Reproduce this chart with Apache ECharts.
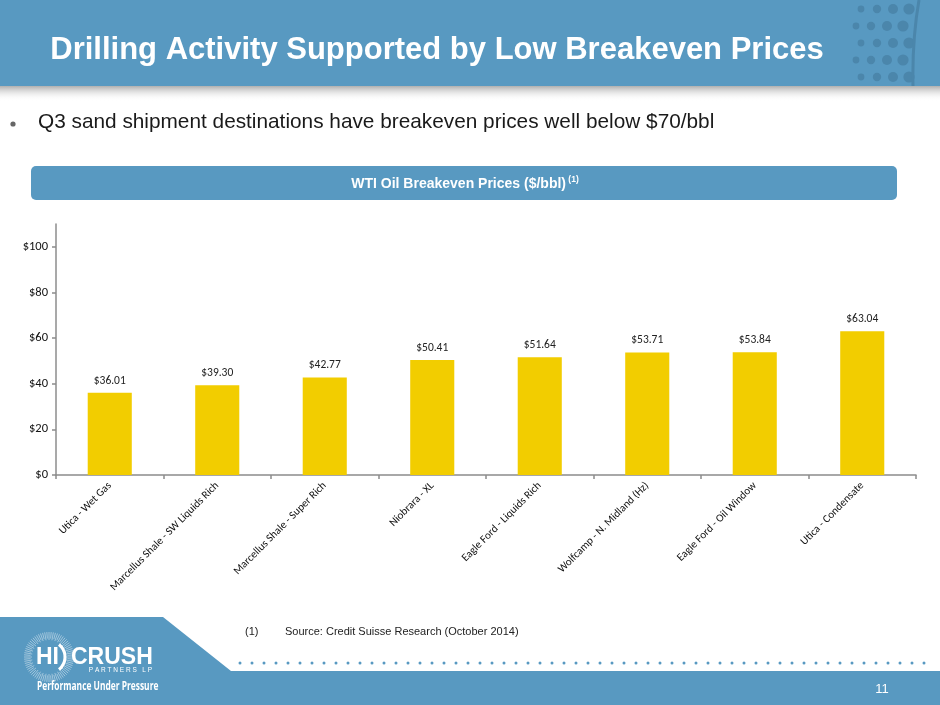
<!DOCTYPE html>
<html>
<head>
<meta charset="utf-8">
<title>Drilling Activity Supported by Low Breakeven Prices</title>
<script src="https://cdn.jsdelivr.net/npm/echarts@6/dist/echarts.min.js"></script>
<style>
  html, body { margin: 0; padding: 0; background: #fff; }
  #chart { width: 940px; height: 705px; }
</style>
</head>
<body>
<div id="chart"></div>
<script>
// data
var categories = [
  'Utica - Wet Gas',
  'Marcellus Shale - SW Liquids Rich',
  'Marcellus Shale - Super Rich',
  'Niobrara - XL',
  'Eagle Ford - Liquids Rich',
  'Wolfcamp - N. Midland (Hz)',
  'Eagle Ford - Oil Window',
  'Utica - Condensate'
];
var prices = [36.01, 39.30, 42.77, 50.41, 51.64, 53.71, 53.84, 63.04];
var yTicks = [0, 20, 40, 60, 80, 100];

var BLUE = '#5899c1';
var DOT = '#4b86ab';
var chartFont = 'Carlito, Lato, sans-serif';

var myChart = echarts.init(document.getElementById('chart'));

// header dots (decoration)
var dotRows = [9, 26, 43, 60, 77];
var dotColsA = [856, 871, 887, 903];
var dotColsB = [861, 877, 893, 909];
var dotR = [3.4, 4.2, 5, 5.6];
var deco = [];
dotRows.forEach(function (y, i) {
  var cols = i % 2 ? dotColsA : dotColsB;
  cols.forEach(function (x, j) {
    deco.push({ type: 'circle', shape: { cx: x, cy: y, r: dotR[j] }, style: { fill: DOT } });
  });
});

// logo sunburst
var burst = [];
for (var a = 0; a < 360; a += 5) {
  var rad = a * Math.PI / 180;
  var r1 = 17 + (a % 10 ? 1.5 : 0), r2 = 25;
  burst.push({
    type: 'line',
    shape: { x1: 49 + r1 * Math.cos(rad), y1: 657 + r1 * Math.sin(rad), x2: 49 + r2 * Math.cos(rad), y2: 657 + r2 * Math.sin(rad) },
    style: { stroke: 'rgba(255,255,255,0.55)', lineWidth: 0.8 }
  });
}

// footer dotted line
var footDots = [];
for (var x = 240; x < 935; x += 12) {
  footDots.push({ type: 'circle', shape: { cx: x, cy: 663, r: 1.5 }, style: { fill: BLUE } });
}

var graphics = [
  // header band + shadow
  { type: 'rect', shape: { x: 0, y: 85, width: 940, height: 16 },
    style: { fill: new echarts.graphic.LinearGradient(0, 0, 0, 1, [
      { offset: 0, color: 'rgba(90,90,90,0.55)' }, { offset: 1, color: 'rgba(255,255,255,0)' }]) } },
  { type: 'rect', shape: { x: 0, y: 0, width: 940, height: 86 }, style: { fill: BLUE } },
  { type: 'group', children: deco },
  { type: 'bezierCurve', shape: { x1: 919, y1: 0, cpx1: 912, cpy1: 40, x2: 913, y2: 86 },
    style: { stroke: DOT, lineWidth: 3, fill: null } },
  { type: 'text', x: 437, y: 50,
    style: { text: 'Drilling Activity Supported by Low Breakeven Prices', fill: '#fff',
      font: 'bold 31px "Liberation Sans", Arial, sans-serif', align: 'center', verticalAlign: 'middle' } },
  // bullet
  { type: 'circle', shape: { cx: 13, cy: 124, r: 2.6 }, style: { fill: '#666' } },
  { type: 'text', x: 38, y: 122,
    style: { text: 'Q3 sand shipment destinations have breakeven prices well below $70/bbl', fill: '#1a1a1a',
      font: '20.8px "Liberation Sans", Arial, sans-serif', verticalAlign: 'middle' } },
  // chart banner
  { type: 'rect', shape: { x: 31, y: 166, width: 866, height: 34, r: 5 }, style: { fill: BLUE } },
  { type: 'text', x: 465, y: 184,
    style: { text: '{m|WTI Oil Breakeven Prices ($/bbl)}{s| (1)}', align: 'center', verticalAlign: 'middle',
      rich: {
        m: { fill: '#fff', font: 'bold 14px "Liberation Sans", Arial, sans-serif' },
        s: { fill: '#fff', font: 'bold 8.5px "Liberation Sans", Arial, sans-serif', verticalAlign: 'top', padding: [0, 0, 8, 0] }
      } } },
  // footer
  { type: 'polygon', shape: { points: [[0, 617], [163, 617], [231, 671], [940, 671], [940, 705], [0, 705]] },
    style: { fill: BLUE } },
  { type: 'group', children: footDots },
  { type: 'text', x: 245, y: 632,
    style: { text: '(1)', fill: '#222', font: '11px "Liberation Sans", Arial, sans-serif', verticalAlign: 'middle' } },
  { type: 'text', x: 285, y: 632,
    style: { text: 'Source: Credit Suisse Research (October 2014)', fill: '#222',
      font: '11px "Liberation Sans", Arial, sans-serif', verticalAlign: 'middle' } },
  { type: 'text', x: 882, y: 689,
    style: { text: '11', fill: '#fff', font: '13px "Liberation Sans", Arial, sans-serif', align: 'center', verticalAlign: 'middle' } },
  // logo
  { type: 'group', children: burst },
  { type: 'arc', shape: { cx: 49, cy: 657, r: 16, startAngle: -0.9, endAngle: 0.9 },
    style: { stroke: '#fff', lineWidth: 3, fill: null } },
  { type: 'text', x: 36, y: 658,
    style: { text: 'HI', fill: '#fff', font: 'bold 23px "Liberation Sans", Arial, sans-serif', verticalAlign: 'middle' } },
  { type: 'text', x: 71, y: 658,
    style: { text: 'CRUSH', fill: '#fff', font: 'bold 23px "Liberation Sans", Arial, sans-serif', verticalAlign: 'middle' } },
  { type: 'text', x: 152, y: 670,
    style: { text: 'P A R T N E R S   L P', fill: '#fff', font: '6.5px "Liberation Sans", Arial, sans-serif', align: 'right', verticalAlign: 'middle' } },
  { type: 'text', x: 37, y: 687, scaleX: 0.73,
    style: { text: 'Performance Under Pressure', fill: '#fff', font: 'bold 11.5px "Open Sans", sans-serif', verticalAlign: 'middle' } }
];

var option = {
  animation: false,
  backgroundColor: '#fff',
  grid: { left: 56, right: 24, top: 224, bottom: 230, containLabel: false },
  xAxis: {
    type: 'category',
    data: categories,
    axisLine: { lineStyle: { color: '#8c8c8c', width: 1.5 } },
    axisTick: { show: true, length: 4, lineStyle: { color: '#8c8c8c', width: 1.5 } },
    axisLabel: { interval: 0, rotate: 45, margin: 9, fontFamily: chartFont, fontSize: 11, color: '#111' }
  },
  yAxis: {
    type: 'value',
    min: 0,
    max: 110,
    splitLine: { show: false },
    axisLine: { show: true, lineStyle: { color: '#8c8c8c', width: 1.5 } },
    axisTick: { show: true, length: 4, customValues: yTicks, lineStyle: { color: '#8c8c8c', width: 1.5 } },
    axisLabel: { customValues: yTicks, margin: 8, fontFamily: chartFont, fontSize: 12.5, color: '#111',
      formatter: function (v) { return '$' + v; } }
  },
  series: [{
    name: 'WTI Oil Breakeven Price',
    type: 'bar',
    data: prices,
    barWidth: '41%',
    itemStyle: { color: '#f2cd00' },
    label: {
      show: true, position: 'top', distance: 6,
      fontFamily: chartFont, fontSize: 11.5, color: '#222',
      formatter: function (p) { return '$' + p.value.toFixed(2); }
    }
  }],
  graphic: graphics
};
myChart.setOption(option);
</script>
</body>
</html>
